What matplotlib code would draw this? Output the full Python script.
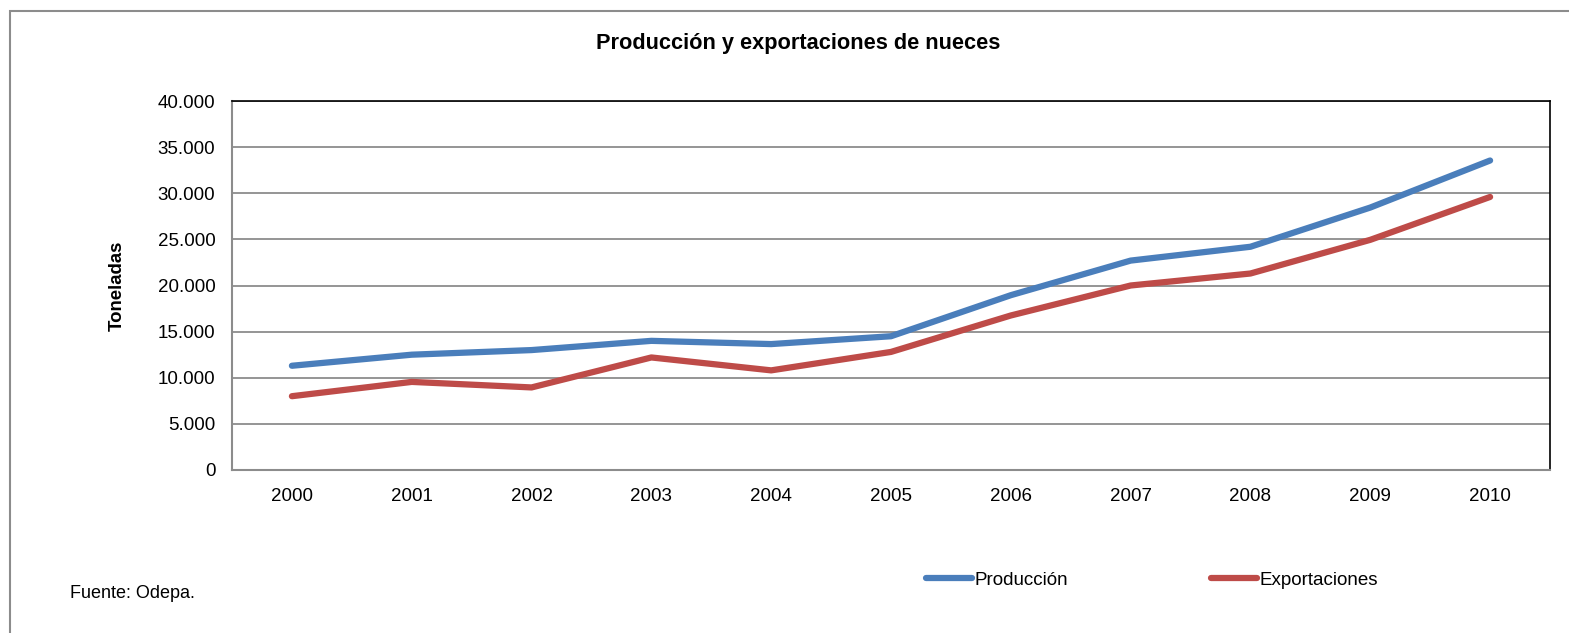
import matplotlib.pyplot as plt
from matplotlib.patches import Rectangle
from matplotlib.ticker import FuncFormatter

plt.rcParams['font.family'] = ['Liberation Sans', 'DejaVu Sans']

# datos (toneladas)
years = ["2000", "2001", "2002", "2003", "2004", "2005",
         "2006", "2007", "2008", "2009", "2010"]
produccion = [11300, 12500, 13000, 14000, 13650, 14500,
              18950, 22700, 24200, 28450, 33550]
exportaciones = [8000, 9550, 8950, 12200, 10800, 12800,
                 16750, 20000, 21300, 24950, 29600]

W, H = 1569, 633
fig = plt.figure(figsize=(W / 100, H / 100), dpi=100)

# marco exterior del grafico
fig.patches.append(Rectangle((10 / W, -0.05), 1.1, 1 - 11 / H + 0.05,
                             transform=fig.transFigure, fill=False,
                             edgecolor="#8c8c8c", linewidth=1.5))

ax = fig.add_axes([232 / W, 1 - 470 / H, (1550 - 232) / W, (470 - 101) / H])

x = range(len(years))
ax.plot(x, produccion, color="#4a7ebb", linewidth=4.5,
        solid_capstyle="round", label="Producción", zorder=3)
ax.plot(x, exportaciones, color="#be4b48", linewidth=4.5,
        solid_capstyle="round", label="Exportaciones", zorder=3)

ax.set_xlim(-0.5, len(years) - 0.5)
ax.set_ylim(0, 40000)
ax.set_yticks(range(0, 40001, 5000))
ax.yaxis.set_major_formatter(FuncFormatter(lambda v, p: f"{int(v):,}".replace(",", ".")))
ax.set_xticks(list(x))
ax.set_xticklabels(years)
ax.tick_params(length=0, labelsize=13.5)
ax.tick_params(axis="x", pad=13)
ax.tick_params(axis="y", pad=12)

ax.grid(axis="y", color="#8c8c8c", linewidth=1.3)
ax.set_axisbelow(True)
for s in ["left", "bottom"]:
    ax.spines[s].set_color("#8c8c8c")
    ax.spines[s].set_linewidth(1.5)
for s in ["top", "right"]:
    ax.spines[s].set_color("black")
    ax.spines[s].set_linewidth(1.2)

fig.text(117 / W, 1 - 286 / H, "Toneladas", rotation=90, ha="center",
         va="center", fontsize=13.4, fontweight="bold")
fig.text(798 / W, 1 - 44 / H, "Producción y exportaciones de nueces",
         ha="center", va="center", fontsize=15.7, fontweight="bold")
fig.text(70 / W, 1 - 593 / H, "Fuente: Odepa.", ha="left", va="center",
         fontsize=13)

fig.legend(loc="center", bbox_to_anchor=(1152 / W, 1 - 580 / H), ncol=2,
           frameon=False, fontsize=13.5, handlelength=2.45, handletextpad=0.15,
           columnspacing=7.6, borderpad=0, borderaxespad=0)

fig.savefig("out.png", dpi=100)
